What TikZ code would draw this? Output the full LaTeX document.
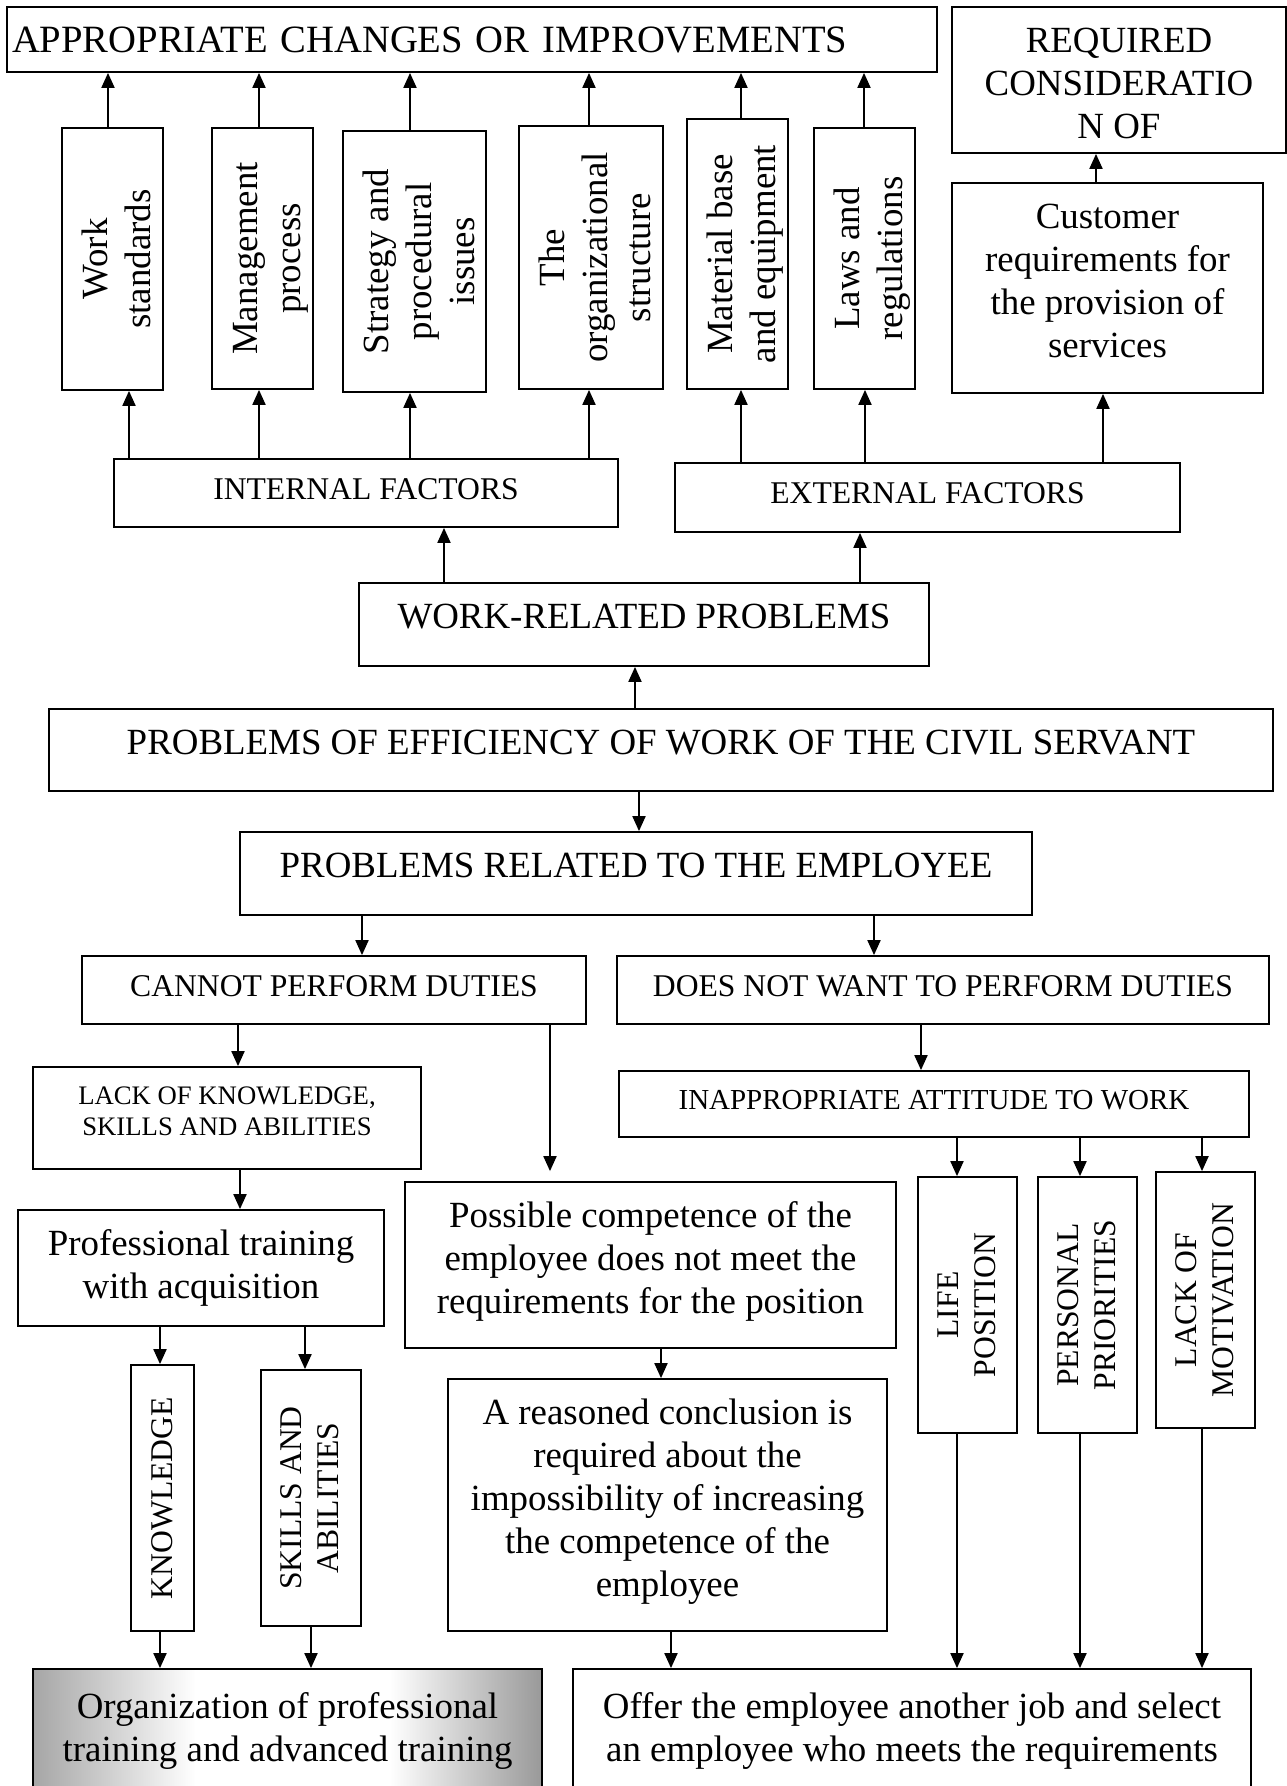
\documentclass[tikz,border=0pt]{standalone}
\usepackage{fontspec}
\setmainfont{Liberation Serif}
\usetikzlibrary{shapes,arrows,arrows.meta,positioning}

% grey edges, white middle
\pgfdeclarehorizontalshading{glare}{100bp}{color(0bp)=(black!35); color(25bp)=(black!35); color(41bp)=(white); color(60bp)=(white); color(75bp)=(black!40); color(100bp)=(black!40)}

% lines hang from the top of a box of height #1
\newcommand{\tblock}[2]{\vbox to \dimexpr#1-17.6pt\relax{\hbox{\begin{tabular}{@{}c@{}}#2\end{tabular}}\vss}}

\tikzset{
    box/.style={draw, rectangle, line width=1.1pt, inner sep=2pt},
    upbox/.style={box, rotate=90},
    bigtxt/.style={font=\fontsize{21}{24.5}\selectfont},
    midtxt/.style={font=\fontsize{18}{20.7}\selectfont},
    smalltxt/.style={font=\fontsize{15.2}{17.6}\selectfont}
}

\begin{document}
\begin{tikzpicture}[x=0.02cm, y=-0.02cm, line width=0.75pt, >={Triangle[length=8.5pt,width=7.5pt]}]
    \useasboundingbox (0,0) rectangle (1287,1786);

    % top row
    \node (top) [box, font=\fontsize{22}{25}\selectfont, minimum width=18.6cm, minimum height=1.3cm, text width=18.4cm, align=left] at (472,39.5) {APPROPRIATE CHANGES OR IMPROVEMENTS};
    \node (req) [box, bigtxt, minimum width=6.68cm, minimum height=2.92cm] at (1119,80) {\tblock{2.92cm}{REQUIRED\\CONSIDERATIO\\N OF}};

    \node (ws) [upbox, bigtxt, minimum width=5.24cm, minimum height=2.02cm] at (112.5,259) {\tblock{2.02cm}{Work\\standards}};
    \node (mp) [upbox, bigtxt, minimum width=5.22cm, minimum height=2.02cm] at (262.5,258.5) {\tblock{2.02cm}{Management\\process}};
    \node (sp) [upbox, bigtxt, minimum width=5.22cm, minimum height=2.86cm] at (414.5,261.5) {\tblock{2.86cm}{Strategy and\\procedural\\issues}};
    \node (os) [upbox, bigtxt, minimum width=5.26cm, minimum height=2.88cm] at (591,257.5) {\tblock{2.88cm}{The\\organizational\\structure}};
    \node (mb) [upbox, bigtxt, minimum width=5.4cm, minimum height=2.02cm] at (737.5,254) {\tblock{2.02cm}{Material base\\and equipment}};
    \node (lr) [upbox, bigtxt, minimum width=5.22cm, minimum height=2.02cm] at (864.5,258.5) {\tblock{2.02cm}{Laws and\\regulations}};
    \node (cust) [box, bigtxt, minimum width=6.22cm, minimum height=4.2cm] at (1107.5,288) {\tblock{4.2cm}{Customer\\requirements for\\the provision of\\services}};

    \node (int) [box, midtxt, minimum width=10.08cm, minimum height=1.36cm] at (366,493) {\tblock{1.36cm}{INTERNAL FACTORS}};
    \node (ext) [box, midtxt, minimum width=10.1cm, minimum height=1.38cm] at (927.5,497.5) {\tblock{1.38cm}{EXTERNAL FACTORS}};
    \node (wrp) [box, bigtxt, minimum width=11.4cm, minimum height=1.66cm] at (644,624.5) {\tblock{1.66cm}{WORK-RELATED PROBLEMS}};
    \node (eff) [box, bigtxt, minimum width=24.48cm, minimum height=1.64cm] at (661,750) {\tblock{1.64cm}{PROBLEMS OF EFFICIENCY OF WORK OF THE CIVIL SERVANT}};
    \node (emp) [box, bigtxt, minimum width=15.84cm, minimum height=1.66cm] at (636,873.5) {\tblock{1.66cm}{PROBLEMS RELATED TO THE EMPLOYEE}};

    % employee side
    \node (cannot) [box, midtxt, minimum width=10.08cm, minimum height=1.36cm] at (334,990) {\tblock{1.36cm}{CANNOT PERFORM DUTIES}};
    \node (unwilling) [box, midtxt, minimum width=13.04cm, minimum height=1.36cm] at (943,990) {\tblock{1.36cm}{DOES NOT WANT TO PERFORM DUTIES}};
    \node (lack) [box, smalltxt, minimum width=7.76cm, minimum height=2.04cm] at (227,1118) {\tblock{2.04cm}{LACK OF KNOWLEDGE,\\SKILLS AND ABILITIES}};
    \node (attitude) [box, font=\fontsize{16.5}{19}\selectfont, minimum width=12.6cm, minimum height=1.32cm] at (934,1104) {\tblock{1.32cm}{INAPPROPRIATE ATTITUDE TO WORK}};
    \node (prof) [box, bigtxt, minimum width=7.32cm, minimum height=2.32cm] at (201,1268) {\tblock{2.32cm}{Professional training\\with acquisition}};
    \node (poss) [box, bigtxt, minimum width=9.82cm, minimum height=3.32cm] at (650.5,1265) {\tblock{3.32cm}{Possible competence of the\\employee does not meet the\\requirements for the position}};
    \node (life) [upbox, midtxt, minimum width=5.12cm, minimum height=1.98cm] at (967.5,1305) {\tblock{1.98cm}{LIFE\\POSITION}};
    \node (prio) [upbox, midtxt, minimum width=5.12cm, minimum height=1.98cm] at (1087.5,1305) {\tblock{1.98cm}{PERSONAL\\PRIORITIES}};
    \node (motiv) [upbox, midtxt, minimum width=5.12cm, minimum height=1.98cm] at (1205.5,1300) {\tblock{1.98cm}{LACK OF\\MOTIVATION}};
    \node (know) [upbox, midtxt, minimum width=5.32cm, minimum height=1.26cm] at (162.5,1498) {KNOWLEDGE};
    \node (skills) [upbox, midtxt, minimum width=5.12cm, minimum height=2cm] at (311,1498) {\tblock{2cm}{SKILLS AND\\ABILITIES}};
    \node (concl) [box, bigtxt, minimum width=8.78cm, minimum height=5.04cm] at (667.5,1505) {\tblock{5.04cm}{A reasoned conclusion is\\required about the\\impossibility of increasing\\the competence of the\\employee}};
    \node (train) [box, bigtxt, shade, shading=glare, minimum width=10.18cm, minimum height=2.46cm] at (287.5,1730.5) {\tblock{2.3cm}{Organization of professional\\training and advanced training}};
    \node (offer) [box, bigtxt, minimum width=13.56cm, minimum height=2.46cm] at (912,1730.5) {\tblock{2.3cm}{Offer the employee another job and select\\an employee who meets the requirements}};

    % factors up to the changes
    \draw[->] (108,0 |- ws.east) -- (108,0 |- top.south);
    \draw[->] (259,0 |- mp.east) -- (259,0 |- top.south);
    \draw[->] (410,0 |- sp.east) -- (410,0 |- top.south);
    \draw[->] (589,0 |- os.east) -- (589,0 |- top.south);
    \draw[->] (741,0 |- mb.east) -- (741,0 |- top.south);
    \draw[->] (864,0 |- lr.east) -- (864,0 |- top.south);
    \draw[->] (1096,0 |- cust.north) -- (1096,0 |- req.south);

    \draw[->] (129,0 |- int.north) -- (129,0 |- ws.west);
    \draw[->] (259,0 |- int.north) -- (259,0 |- mp.west);
    \draw[->] (410,0 |- int.north) -- (410,0 |- sp.west);
    \draw[->] (589,0 |- int.north) -- (589,0 |- os.west);
    \draw[->] (741,0 |- ext.north) -- (741,0 |- mb.west);
    \draw[->] (865,0 |- ext.north) -- (865,0 |- lr.west);
    \draw[->] (1103,0 |- ext.north) -- (1103,0 |- cust.south);

    \draw[->] (444,0 |- wrp.north) -- (444,0 |- int.south);
    \draw[->] (860,0 |- wrp.north) -- (860,0 |- ext.south);
    \draw[->] (635,0 |- eff.north) -- (635,0 |- wrp.south);

    % down to the employee
    \draw[->] (639,0 |- eff.south) -- (639,0 |- emp.north);
    \draw[->] (362,0 |- emp.south) -- (362,0 |- cannot.north);
    \draw[->] (874,0 |- emp.south) -- (874,0 |- unwilling.north);
    \draw[->] (238,0 |- cannot.south) -- (238,0 |- lack.north);
    \draw[->, shorten >=0.2cm] (550,0 |- cannot.south) -- (550,0 |- poss.north);
    \draw[->] (921,0 |- unwilling.south) -- (921,0 |- attitude.north);
    \draw[->] (957,0 |- attitude.south) -- (957,0 |- life.east);
    \draw[->] (1080,0 |- attitude.south) -- (1080,0 |- prio.east);
    \draw[->] (1202,0 |- attitude.south) -- (1202,0 |- motiv.east);
    \draw[->] (240,0 |- lack.south) -- (240,0 |- prof.north);
    \draw[->] (160,0 |- prof.south) -- (160,0 |- know.east);
    \draw[->] (305,0 |- prof.south) -- (305,0 |- skills.east);
    \draw[->] (661,0 |- poss.south) -- (661,0 |- concl.north);

    % outcomes
    \draw[->] (160,0 |- know.west) -- (160,0 |- train.north);
    \draw[->] (311,0 |- skills.west) -- (311,0 |- train.north);
    \draw[->] (671,0 |- concl.south) -- (671,0 |- offer.north);
    \draw[->] (957,0 |- life.west) -- (957,0 |- offer.north);
    \draw[->] (1080,0 |- prio.west) -- (1080,0 |- offer.north);
    \draw[->] (1202,0 |- motiv.west) -- (1202,0 |- offer.north);
\end{tikzpicture}
\end{document}
